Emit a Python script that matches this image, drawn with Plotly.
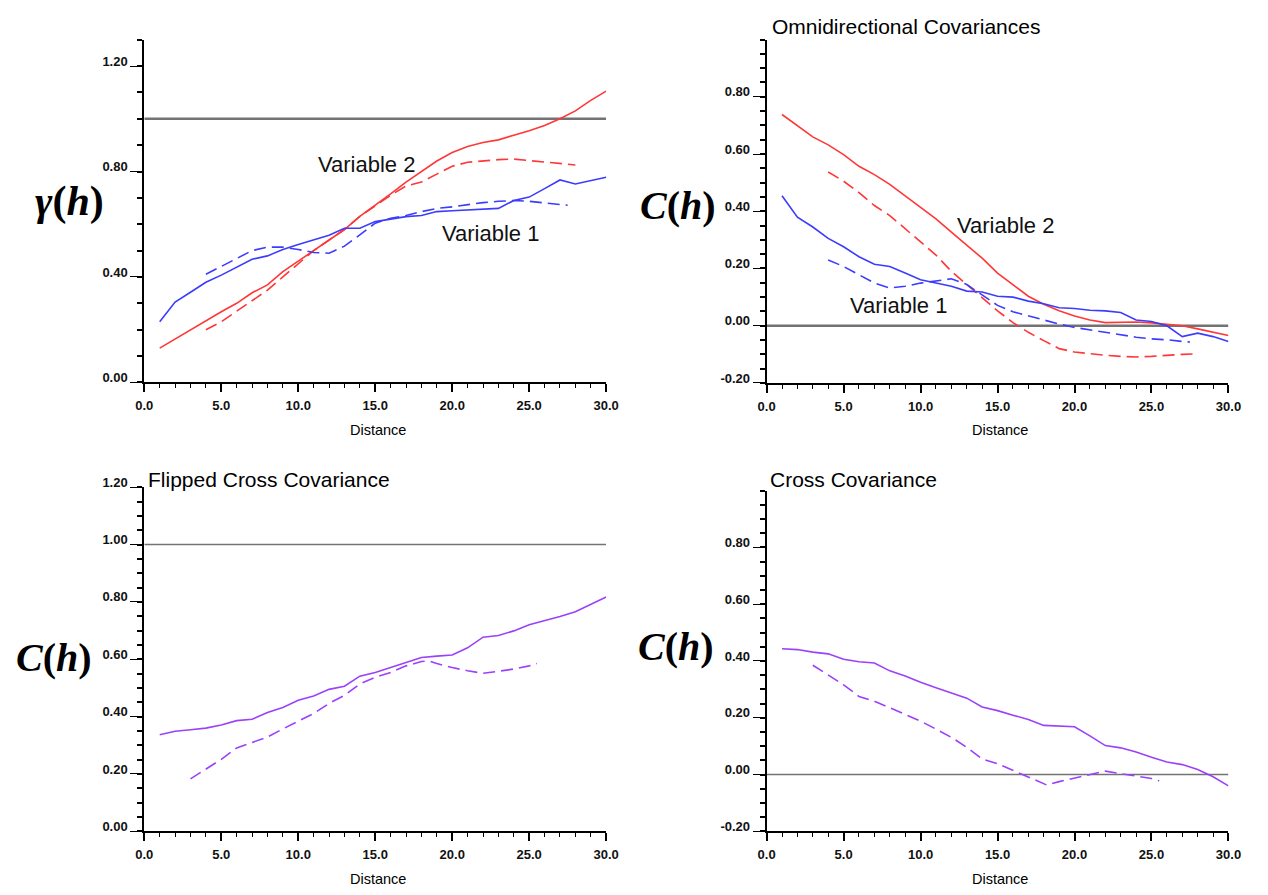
import plotly.graph_objects as go

# ---------------- data ----------------
lags = list(range(1, 31))

# Top-left: semivariograms
v2_gamma_solid = [0.13, 0.165, 0.20, 0.235, 0.268, 0.30, 0.34, 0.37, 0.42, 0.46,
                  0.50, 0.54, 0.58, 0.63, 0.672, 0.715, 0.76, 0.80, 0.84, 0.872,
                  0.895, 0.91, 0.92, 0.938, 0.955, 0.975, 1.0, 1.03, 1.07, 1.105]
v2_gamma_dash_x = list(range(4, 29))
v2_gamma_dash = [0.20, 0.23, 0.27, 0.31, 0.35, 0.40, 0.45, 0.50, 0.54, 0.58,
                 0.63, 0.67, 0.71, 0.745, 0.76, 0.79, 0.82, 0.835, 0.84, 0.845,
                 0.847, 0.842, 0.835, 0.83, 0.825]
v1_gamma_solid = [0.23, 0.305, 0.342, 0.38, 0.407, 0.436, 0.467, 0.48, 0.504, 0.523,
                  0.542, 0.558, 0.585, 0.585, 0.61, 0.62, 0.629, 0.633, 0.648, 0.651,
                  0.654, 0.658, 0.66, 0.69, 0.703, 0.735, 0.768, 0.753, 0.766, 0.778]
v1_gamma_dash_x = [4, 5, 6, 7, 8, 9, 10, 11, 12, 13, 14, 15, 16, 17, 18, 19, 20,
                   21, 22, 23, 24, 25, 26, 27, 27.5]
v1_gamma_dash = [0.41, 0.44, 0.467, 0.50, 0.513, 0.513, 0.504, 0.493, 0.49, 0.517,
                 0.56, 0.604, 0.623, 0.633, 0.648, 0.66, 0.666, 0.675, 0.682, 0.687,
                 0.69, 0.687, 0.682, 0.675, 0.672]

# Top-right: omnidirectional covariances
v2_cov_solid = [0.738, 0.70, 0.66, 0.632, 0.598, 0.557, 0.528, 0.494, 0.454, 0.414,
                0.373, 0.327, 0.282, 0.236, 0.184, 0.144, 0.103, 0.075, 0.052, 0.034,
                0.02, 0.011, 0.013, 0.013, 0.01, 0.006, 0.0, -0.011, -0.023, -0.034]
v2_cov_dash_x = list(range(4, 29))
v2_cov_dash = [0.537, 0.505, 0.465, 0.42, 0.385, 0.339, 0.293, 0.247, 0.19, 0.144,
               0.098, 0.052, 0.011, -0.023, -0.052, -0.08, -0.092, -0.098, -0.103, -0.107,
               -0.109, -0.107, -0.103, -0.10, -0.098]
v1_cov_solid = [0.454, 0.379, 0.345, 0.305, 0.276, 0.241, 0.215, 0.207, 0.184, 0.161,
                0.149, 0.138, 0.121, 0.118, 0.103, 0.10, 0.086, 0.077, 0.063, 0.06,
                0.054, 0.052, 0.046, 0.02, 0.015, 0.0, -0.038, -0.026, -0.038, -0.055]
v1_cov_dash_x = [4, 5, 6, 7, 8, 9, 10, 11, 12, 13, 14, 15, 16, 17, 18, 19, 20,
                 21, 22, 23, 24, 25, 26, 27, 27.5]
v1_cov_dash = [0.23, 0.207, 0.178, 0.149, 0.132, 0.138, 0.149, 0.157, 0.164, 0.144,
               0.109, 0.071, 0.049, 0.034, 0.02, 0.006, -0.006, -0.015, -0.023, -0.032,
               -0.04, -0.046, -0.049, -0.055, -0.057]

# Bottom-left: flipped cross covariance
flip_solid = [0.337, 0.349, 0.354, 0.36, 0.371, 0.386, 0.391, 0.414, 0.432, 0.457,
              0.472, 0.495, 0.506, 0.541, 0.554, 0.571, 0.589, 0.606, 0.611, 0.615,
              0.64, 0.677, 0.683, 0.699, 0.72, 0.734, 0.749, 0.766, 0.791, 0.817]
flip_dash_x = [3, 4, 5, 6, 7, 8, 9, 10, 11, 12, 13, 14, 15, 16, 17, 18, 18.5,
               19, 20, 21, 22, 23, 24, 25, 25.5]
flip_dash = [0.183, 0.217, 0.251, 0.291, 0.311, 0.329, 0.357, 0.383, 0.411, 0.446,
             0.474, 0.514, 0.537, 0.554, 0.577, 0.592, 0.594, 0.585, 0.571, 0.56,
             0.551, 0.558, 0.566, 0.577, 0.585]

# Bottom-right: cross covariance
cross_solid = [0.443, 0.44, 0.431, 0.425, 0.406, 0.397, 0.393, 0.365, 0.347, 0.325,
               0.306, 0.287, 0.269, 0.238, 0.225, 0.209, 0.194, 0.173, 0.171, 0.168,
               0.136, 0.102, 0.094, 0.079, 0.061, 0.044, 0.035, 0.018, -0.008, -0.04]
cross_dash_x = [3, 4, 5, 6, 7, 8, 9, 10, 11, 12, 13, 14, 15, 16, 17, 18, 18.2,
                19, 20, 21, 22, 23, 24, 25, 25.5]
cross_dash = [0.385, 0.35, 0.316, 0.275, 0.258, 0.235, 0.212, 0.188, 0.16, 0.131,
              0.096, 0.055, 0.038, 0.015, -0.008, -0.031, -0.037, -0.025, -0.012, 0.0,
              0.012, 0.003, -0.005, -0.014, -0.022]

ref_x = [0, 30]
sill_gamma = 1.0
zero_line = 0.0
sill_flip = 1.0

x_ticks = [0, 5, 10, 15, 20, 25, 30]
x_tick_text = ["0.0", "5.0", "10.0", "15.0", "20.0", "25.0", "30.0"]

# ---------------- styling ----------------
W, H = 1268, 895
RED = "rgb(255,55,55)"
BLUE = "rgb(60,60,255)"
PURPLE = "rgb(155,65,250)"
GRAY = "rgb(115,115,115)"
DASH = "12px,6px"
SANS = "Liberation Sans, Arial, sans-serif"
SERIF = "Liberation Serif, Times New Roman, serif"


def fx(px):
    return px / W


def fy(py):
    return 1 - py / H


def xdom(px0, px1):
    return [fx(px0), fx(px1)]


def ydom(py_bottom, py_top):
    return [fy(py_bottom), fy(py_top)]


fig = go.Figure()


def add(x, y, axis_idx, color, dash=None, width=1.6):
    suffix = "" if axis_idx == 1 else str(axis_idx)
    fig.add_trace(go.Scatter(
        x=x, y=y, mode="lines", xaxis="x" + suffix, yaxis="y" + suffix,
        line=dict(color=color, width=width, dash=dash if dash else "solid"),
        showlegend=False, hoverinfo="skip"))


# panel 1
add(ref_x, [sill_gamma] * 2, 1, GRAY, width=2.6)
add(lags, v2_gamma_solid, 1, RED)
add(v2_gamma_dash_x, v2_gamma_dash, 1, RED, DASH)
add(lags, v1_gamma_solid, 1, BLUE)
add(v1_gamma_dash_x, v1_gamma_dash, 1, BLUE, DASH)
# panel 2
add(ref_x, [zero_line] * 2, 2, GRAY, width=2.6)
add(lags, v2_cov_solid, 2, RED)
add(v2_cov_dash_x, v2_cov_dash, 2, RED, DASH)
add(lags, v1_cov_solid, 2, BLUE)
add(v1_cov_dash_x, v1_cov_dash, 2, BLUE, DASH)
# panel 3
add(ref_x, [sill_flip] * 2, 3, GRAY, width=1.6)
add(lags, flip_solid, 3, PURPLE)
add(flip_dash_x, flip_dash, 3, PURPLE, DASH)
# panel 4
add(ref_x, [zero_line] * 2, 4, GRAY, width=1.6)
add(lags, cross_solid, 4, PURPLE)
add(cross_dash_x, cross_dash, 4, PURPLE, DASH)

tickfont = dict(family=SANS, size=13, color="#111", weight="bold")


def xaxis(dom, anchor):
    return dict(domain=dom, anchor=anchor, range=[0, 30], tickvals=x_ticks,
                ticktext=x_tick_text, showline=True, linecolor="black", linewidth=2,
                ticks="outside", ticklen=8, tickwidth=1.5, tickcolor="black",
                minor=dict(dtick=1, tick0=0, ticks="outside", ticklen=4,
                           tickwidth=1.3, tickcolor="black"),
                showgrid=False, zeroline=False, tickfont=tickfont,
                ticklabelstandoff=2)


def yaxis(dom, anchor, rng, tickvals, minor_dtick):
    return dict(domain=dom, anchor=anchor, range=rng, tickvals=tickvals,
                ticktext=["%.2f" % v for v in tickvals],
                showline=True, linecolor="black", linewidth=2,
                ticks="outside", ticklen=12, tickwidth=1.2, tickcolor="black",
                minor=dict(dtick=minor_dtick, tick0=0, ticks="outside", ticklen=5,
                           tickwidth=1.6, tickcolor="black"),
                showgrid=False, zeroline=False, tickfont=tickfont,
                ticklabelshift=-5, ticklabelstandoff=0)


LX = xdom(137.7, 607.7)
RX = xdom(771, 1241)

fig.update_layout(
    width=W, height=H, margin=dict(l=0, r=0, t=0, b=0),
    paper_bgcolor="white", plot_bgcolor="white",
    xaxis=xaxis(LX, "y"),
    yaxis=yaxis(ydom(376.7, 28.2), "x", [0, 1.30], [0, 0.4, 0.8, 1.2], 0.1),
    xaxis2=xaxis(RX, "y2"),
    yaxis2=yaxis(ydom(377.3, 28), "x2", [-0.2, 1.0],
                 [-0.2, 0, 0.2, 0.4, 0.6, 0.8], 0.05),
    xaxis3=xaxis(LX, "y3"),
    yaxis3=yaxis(ydom(833.3, 483.3), "x3", [0, 1.2],
                 [0, 0.2, 0.4, 0.6, 0.8, 1.0, 1.2], 0.05),
    xaxis4=xaxis(RX, "y4"),
    yaxis4=yaxis(ydom(833.3, 486.7), "x4", [-0.2, 1.0],
                 [-0.2, 0, 0.2, 0.4, 0.6, 0.8], 0.05),
)

ann = []


def text_px(x, y, t, size, family=SANS, xanchor="center", yanchor="middle"):
    ann.append(dict(x=fx(x), y=fy(y), xref="paper", yref="paper", text=t,
                    showarrow=False, xanchor=xanchor, yanchor=yanchor,
                    font=dict(family=family, size=size, color="black")))


def text_data(x, y, t, idx, size=22):
    s = "" if idx == 1 else str(idx)
    ann.append(dict(x=x, y=y, xref="x" + s, yref="y" + s, text=t, showarrow=False,
                    font=dict(family=SANS, size=size, color="#111")))


# curve labels
text_data(14.44, 0.825, "Variable 2", 1)
text_data(22.5, 0.563, "Variable 1", 1)
text_data(15.54, 0.35, "Variable 2", 2)
text_data(8.58, 0.07, "Variable 1", 2)

# panel titles
text_px(774, 15, "Omnidirectional Covariances", 21, xanchor="left")
text_px(139, 475, "Flipped Cross Covariance", 21, xanchor="left")
text_px(772, 475, "Cross Covariance", 21, xanchor="left")

# axis titles
for cx, cy in [(375.5, 425), (1008, 425), (375.5, 882), (1008, 882)]:
    text_px(cx, cy, "Distance", 14.5)

text_px(62, 193, "<b><i>γ</i>(<i>h</i>)</b>", 42, family=SERIF)
text_px(681, 197, "<b><i>C</i>(<i>h</i>)</b>", 40, family=SERIF)
text_px(46, 657, "<b><i>C</i>(<i>h</i>)</b>", 40, family=SERIF)
text_px(679, 645, "<b><i>C</i>(<i>h</i>)</b>", 40, family=SERIF)

fig.update_layout(annotations=ann)

fig.write_html("out.html")
